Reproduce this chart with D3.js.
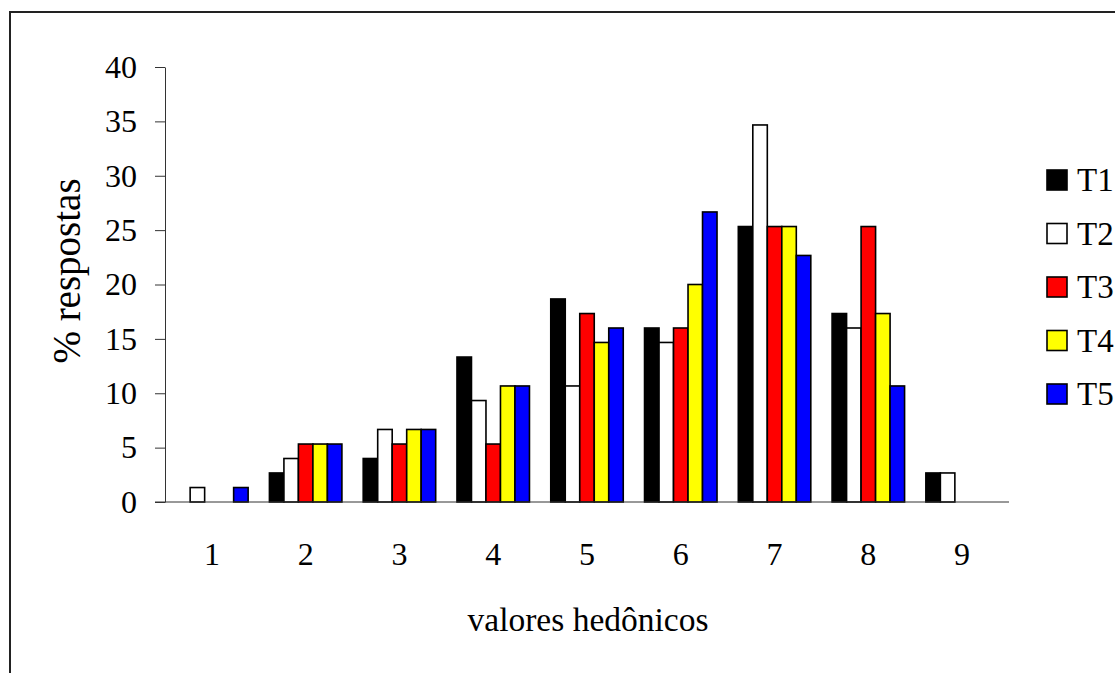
<!DOCTYPE html>
<html>
<head>
<meta charset="utf-8">
<script src="https://cdn.jsdelivr.net/npm/d3@7"></script>
<style>
  html, body { margin: 0; padding: 0; background: #fff; }
  svg text { font-family: "Liberation Serif", "Times New Roman", serif; fill: #000; }
</style>
</head>
<body>
<div id="chart"></div>
<script>
// hedonic scale values (x categories)
const categories = ['1', '2', '3', '4', '5', '6', '7', '8', '9'];
const seriesNames = ['T1', 'T2', 'T3', 'T4', 'T5'];
const seriesColors = ['#000000', '#ffffff', '#ff0000', '#ffff00', '#0000ff'];

// % of responses per category, one array per treatment
const t1 = [0, 2.67, 4.0, 13.33, 18.67, 16.0, 25.33, 17.33, 2.67];
const t2 = [1.33, 4.0, 6.67, 9.33, 10.67, 14.67, 34.67, 16.0, 2.67];
const t3 = [0, 5.33, 5.33, 5.33, 17.33, 16.0, 25.33, 25.33, 0];
const t4 = [0, 5.33, 6.67, 10.67, 14.67, 20.0, 25.33, 17.33, 0];
const t5 = [1.33, 5.33, 6.67, 10.67, 16.0, 26.67, 22.67, 10.67, 0];

const yTicks = [0, 5, 10, 15, 20, 25, 30, 35, 40];

const width = 1115, height = 673;
const plot = { left: 165, right: 1009, top: 67, bottom: 502 };
const fontFamily = '"Liberation Serif", "Times New Roman", serif';

const seriesValues = [t1, t2, t3, t4, t5];
const rows = categories.map((c, i) => ({
  cat: c,
  vals: seriesNames.map((s, j) => ({ name: s, color: seriesColors[j], value: seriesValues[j][i] }))
}));

const svg = d3.select('#chart').append('svg')
  .attr('width', width)
  .attr('height', height);

// outer frame (right and bottom edges fall outside the picture)
svg.append('rect')
  .attr('x', 10).attr('y', 12)
  .attr('width', 1200).attr('height', 800)
  .attr('fill', 'none')
  .attr('stroke', '#222')
  .attr('stroke-width', 2);

const x0 = d3.scaleBand()
  .domain(categories)
  .range([plot.left, plot.right])
  .paddingInner(0.227)
  .paddingOuter(0.1135);

const x1 = d3.scaleBand()
  .domain(seriesNames)
  .range([0, x0.bandwidth()]);

const y = d3.scaleLinear()
  .domain([0, 40])
  .range([plot.bottom, plot.top]);

// bars
const groups = svg.append('g').selectAll('g')
  .data(rows)
  .join('g')
  .attr('transform', d => `translate(${x0(d.cat)},0)`);

groups.selectAll('rect')
  .data(d => d.vals.filter(v => v.value > 0))
  .join('rect')
  .attr('x', d => x1(d.name))
  .attr('y', d => y(d.value))
  .attr('width', x1.bandwidth())
  .attr('height', d => y(0) - y(d.value))
  .attr('fill', d => d.color)
  .attr('stroke', '#000')
  .attr('stroke-width', 1.6);

// y axis
const yAxis = svg.append('g')
  .attr('transform', `translate(${plot.left},0)`)
  .call(d3.axisLeft(y).tickValues(yTicks).tickSize(10).tickPadding(18).tickSizeOuter(0));
yAxis.select('.domain').attr('stroke', '#333');
yAxis.selectAll('.tick line').attr('stroke', '#333');
yAxis.selectAll('.tick text')
  .style('font-size', '32px')
  .style('font-family', fontFamily);

// x axis (no tick marks)
const xAxis = svg.append('g')
  .attr('transform', `translate(0,${plot.bottom})`)
  .call(d3.axisBottom(x0).tickSize(0).tickPadding(40).tickSizeOuter(0));
xAxis.select('.domain').remove();
xAxis.append('line')
  .attr('x1', plot.left - 10).attr('x2', plot.right)
  .attr('stroke', '#333');
xAxis.selectAll('.tick text')
  .style('font-size', '32px')
  .style('font-family', fontFamily);

// axis titles
svg.append('text')
  .attr('x', 588).attr('y', 631)
  .attr('text-anchor', 'middle')
  .style('font-size', '33.5px')
  .text('valores hedônicos');

svg.append('text')
  .attr('transform', 'translate(80,271) rotate(-90)')
  .attr('text-anchor', 'middle')
  .style('font-size', '39px')
  .text('% respostas');

// legend
const legend = svg.append('g').selectAll('g')
  .data(seriesNames)
  .join('g')
  .attr('transform', (d, i) => `translate(1046,${180 + i * 53.5})`);

legend.append('rect')
  .attr('x', 1).attr('y', -10)
  .attr('width', 20).attr('height', 20)
  .attr('fill', (d, i) => seriesColors[i])
  .attr('stroke', '#000')
  .attr('stroke-width', 1.6);

legend.append('text')
  .attr('x', 31).attr('y', 11)
  .style('font-size', '33px')
  .text(d => d);
</script>
</body>
</html>
